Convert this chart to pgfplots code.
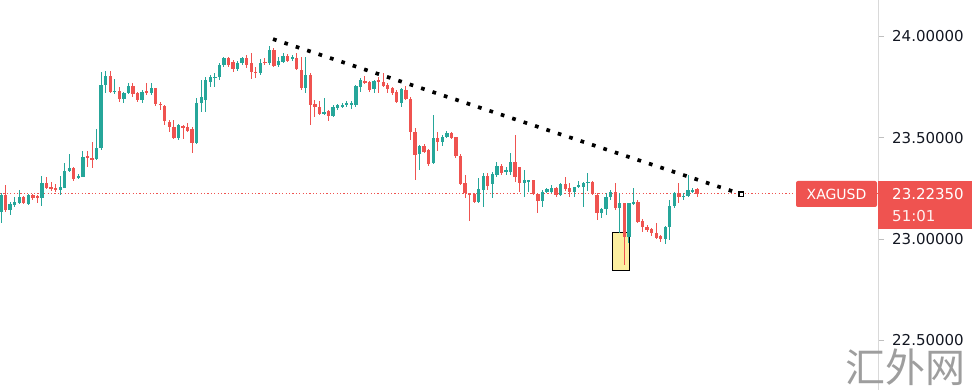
\documentclass[border=0pt]{standalone}
\usepackage{pgfplots}
\pgfplotsset{compat=1.18}
\usepackage{pgfplotstable}
\usepackage{fontspec}
\setmainfont{DejaVu Sans}
\newfontfamily\cjk{Noto Sans CJK SC}
\definecolor{tvgreen}{HTML}{26A69A}
\definecolor{tvred}{HTML}{EF5350}
\definecolor{txt}{HTML}{131722}
\definecolor{boxyellow}{HTML}{FCEFA0}

\pgfplotstableread{
x o h l c
0 23.134 23.227 23.079 23.218
2 23.144 23.183 23.119 23.173
3 23.168 23.208 23.158 23.183
4 23.178 23.242 23.173 23.208
6 23.173 23.222 23.168 23.218
9 23.203 23.311 23.163 23.277
13 23.242 23.311 23.218 23.257
14 23.252 23.375 23.252 23.336
15 23.336 23.420 23.331 23.351
17 23.301 23.321 23.297 23.311
18 23.306 23.435 23.306 23.405
21 23.395 23.543 23.390 23.450
22 23.450 23.825 23.440 23.760
23 23.760 23.830 23.721 23.805
25 23.726 23.790 23.716 23.731
27 23.691 23.726 23.672 23.721
28 23.721 23.770 23.716 23.756
31 23.686 23.736 23.672 23.726
33 23.721 23.770 23.711 23.746
39 23.499 23.568 23.489 23.563
43 23.474 23.696 23.469 23.672
44 23.672 23.785 23.627 23.701
45 23.686 23.800 23.627 23.785
46 23.775 23.810 23.751 23.800
47 23.795 23.820 23.751 23.800
48 23.800 23.869 23.785 23.859
49 23.859 23.899 23.849 23.894
52 23.839 23.879 23.830 23.869
53 23.869 23.899 23.859 23.894
57 23.820 23.889 23.810 23.869
59 23.869 23.953 23.859 23.933
61 23.859 23.899 23.849 23.879
62 23.874 23.918 23.869 23.904
64 23.889 23.909 23.879 23.899
67 23.746 23.899 23.721 23.810
71 23.622 23.696 23.612 23.627
73 23.607 23.662 23.603 23.652
74 23.647 23.667 23.637 23.662
75 23.652 23.672 23.647 23.662
76 23.662 23.681 23.652 23.672
77 23.662 23.681 23.642 23.672
78 23.662 23.760 23.652 23.756
79 23.751 23.795 23.726 23.785
82 23.741 23.785 23.721 23.780
88 23.672 23.746 23.652 23.741
92 23.420 23.464 23.341 23.459
95 23.375 23.612 23.371 23.499
97 23.479 23.514 23.459 23.504
98 23.504 23.533 23.499 23.524
105 23.183 23.301 23.178 23.247
106 23.242 23.326 23.158 23.311
108 23.272 23.331 23.203 23.321
109 23.316 23.380 23.306 23.361
111 23.331 23.356 23.316 23.341
112 23.331 23.425 23.316 23.380
115 23.277 23.341 23.208 23.292
116 23.286 23.292 23.232 23.292
119 23.188 23.242 23.158 23.232
120 23.232 23.252 23.227 23.247
121 23.232 23.267 23.227 23.252
123 23.218 23.277 23.213 23.272
126 23.232 23.257 23.208 23.257
127 23.257 23.287 23.252 23.267
128 23.257 23.282 23.158 23.277
129 23.277 23.326 23.237 23.282
132 23.129 23.153 23.104 23.148
133 23.148 23.227 23.119 23.208
134 23.208 23.242 23.193 23.232
136 23.153 23.227 23.030 23.178
138 23.010 23.178 22.981 23.178
139 23.173 23.252 23.168 23.183
146 23.000 23.065 22.976 23.060
147 23.060 23.193 22.995 23.163
148 23.163 23.232 23.153 23.227
150 23.208 23.227 23.193 23.213
151 23.213 23.316 23.208 23.242
152 23.237 23.252 23.227 23.242
}\greentable

\pgfplotstableread{
x o h l c
1 23.218 23.267 23.134 23.144
5 23.208 23.213 23.173 23.178
7 23.218 23.222 23.193 23.203
8 23.213 23.218 23.178 23.203
10 23.277 23.306 23.247 23.252
11 23.257 23.282 23.237 23.247
12 23.252 23.272 23.232 23.242
16 23.351 23.356 23.287 23.297
19 23.410 23.435 23.356 23.400
20 23.400 23.479 23.351 23.395
24 23.805 23.830 23.721 23.726
26 23.731 23.751 23.677 23.691
29 23.756 23.770 23.701 23.716
30 23.721 23.726 23.677 23.686
32 23.731 23.770 23.711 23.721
34 23.746 23.746 23.657 23.667
35 23.667 23.677 23.637 23.662
36 23.657 23.662 23.563 23.583
37 23.578 23.588 23.528 23.553
38 23.553 23.588 23.494 23.499
40 23.558 23.563 23.494 23.548
41 23.553 23.573 23.528 23.533
42 23.543 23.553 23.425 23.474
50 23.894 23.899 23.849 23.859
51 23.874 23.884 23.825 23.839
54 23.894 23.909 23.844 23.859
55 23.869 23.918 23.790 23.825
56 23.825 23.849 23.795 23.820
58 23.874 23.894 23.859 23.869
60 23.933 23.943 23.849 23.854
63 23.904 23.913 23.874 23.879
65 23.894 23.918 23.835 23.839
66 23.835 23.899 23.736 23.746
68 23.810 23.820 23.563 23.662
69 23.667 23.686 23.603 23.652
70 23.652 23.681 23.612 23.617
72 23.632 23.637 23.583 23.607
80 23.780 23.805 23.765 23.770
81 23.775 23.780 23.726 23.736
83 23.785 23.800 23.721 23.775
84 23.775 23.820 23.751 23.756
85 23.760 23.770 23.721 23.741
86 23.746 23.751 23.711 23.721
87 23.726 23.736 23.672 23.677
89 23.736 23.756 23.686 23.691
90 23.691 23.701 23.489 23.528
91 23.528 23.548 23.292 23.415
93 23.459 23.469 23.425 23.430
94 23.440 23.445 23.361 23.371
96 23.499 23.528 23.435 23.479
99 23.524 23.528 23.494 23.499
100 23.504 23.504 23.400 23.410
101 23.410 23.420 23.267 23.272
102 23.277 23.316 23.203 23.227
103 23.227 23.227 23.089 23.222
104 23.222 23.227 23.178 23.183
107 23.311 23.326 23.242 23.262
110 23.361 23.371 23.316 23.326
113 23.380 23.514 23.282 23.306
114 23.356 23.356 23.232 23.277
117 23.292 23.292 23.218 23.222
118 23.222 23.227 23.129 23.188
122 23.252 23.257 23.208 23.218
124 23.272 23.306 23.237 23.247
125 23.252 23.277 23.208 23.232
130 23.282 23.287 23.218 23.222
131 23.218 23.227 23.094 23.129
135 23.232 23.277 23.144 23.153
137 23.178 23.178 22.872 23.010
140 23.183 23.193 23.079 23.084
141 23.089 23.099 23.035 23.060
142 23.060 23.069 23.035 23.045
143 23.050 23.055 23.015 23.030
144 23.030 23.079 23.000 23.005
145 23.015 23.020 22.986 23.000
149 23.227 23.277 23.178 23.208
153 23.247 23.252 23.208 23.2235
}\redtable

\pgfplotsset{
  wick/.style={draw=none, mark=none, forget plot,
    error bars/.cd, y dir=both, y explicit, error mark=none,
    error bar style={line width=1pt, solid, draw=#1}},
  body/.style={draw=none, mark=none, forget plot,
    error bars/.cd, y dir=both, y explicit, error mark=none,
    error bar style={line width=3.3pt, solid, draw=#1}},
}

\begin{document}
\begin{tikzpicture}
\path[use as bounding box] (0,0) rectangle (972pt,390pt);
\begin{axis}[
  at={(0,0)}, anchor=south west,
  scale only axis, width=878pt, height=390pt,
  xmin=-0.22, xmax=192.75, ymin=22.255, ymax=24.180,
  axis x line=none,
  axis y line*=right,
  axis line style={draw=black!15, line width=0.8pt},
  ytick={22.5,23,23.5,24},
  yticklabels={22.50000,23.00000,23.50000,24.00000},
  tick align=outside, major tick length=6pt,
  tick style={draw=black!25, line width=0.8pt},
  yticklabel style={font=\fontsize{15}{15}\selectfont, text=txt, anchor=west, inner sep=0pt, xshift=8pt},
]
% highlight box
\addplot[draw=black, line width=1pt, fill=boxyellow, forget plot]
  coordinates {(134.3,23.030) (138.2,23.030) (138.2,22.847) (134.3,22.847)} -- cycle;
% last price line
\addplot[tvred, line width=1.2pt, dash pattern=on 1.2pt off 2.2pt, forget plot]
  coordinates {(-0.22,23.2235) (192.75,23.2235)};
% wicks
\addplot[wick=tvgreen] table[x=x, y expr=(\thisrow{h}+\thisrow{l})/2, y error expr=(\thisrow{h}-\thisrow{l})/2] {\greentable};
\addplot[wick=tvred] table[x=x, y expr=(\thisrow{h}+\thisrow{l})/2, y error expr=(\thisrow{h}-\thisrow{l})/2] {\redtable};
% bodies
\addplot[body=tvgreen] table[x=x, y expr=(\thisrow{o}+\thisrow{c})/2, y error expr=abs(\thisrow{c}-\thisrow{o})/2] {\greentable};
\addplot[body=tvred] table[x=x, y expr=(\thisrow{o}+\thisrow{c})/2, y error expr=abs(\thisrow{c}-\thisrow{o})/2] {\redtable};
% trend line
\addplot[black, line width=3.7pt, dash pattern=on 3.7pt off 8.3pt, forget plot]
  coordinates {(59.78,23.987) (162.64,23.222)};
\addplot[only marks, mark=square*, mark size=2.2pt, mark options={fill=white, draw=black, line width=1.4pt}, forget plot]
  coordinates {(162.64,23.222)};
\end{axis}
% symbol label
\fill[tvred, rounded corners=2pt] (796pt,183pt) rectangle (877pt,209pt);
\node[text=white, font=\fontsize{14}{14}\selectfont, inner sep=0pt] at (836.5pt,196pt) {XAGUSD};
% price label
\fill[tvred] (878pt,161pt) rectangle (972pt,209pt);
\node[anchor=west, text=white, font=\fontsize{15}{15}\selectfont, inner sep=0pt] at (892pt,196pt) {23.22350};
\node[anchor=west, text=white!92!tvred, font=\fontsize{15}{15}\selectfont, inner sep=0pt] at (892pt,174pt) {51:01};
% watermark
\node[anchor=south east, text=black!38, font=\cjk\fontsize{40}{40}\selectfont, inner sep=0pt] at (966pt,4pt) {汇外网};
\end{tikzpicture}
\end{document}
